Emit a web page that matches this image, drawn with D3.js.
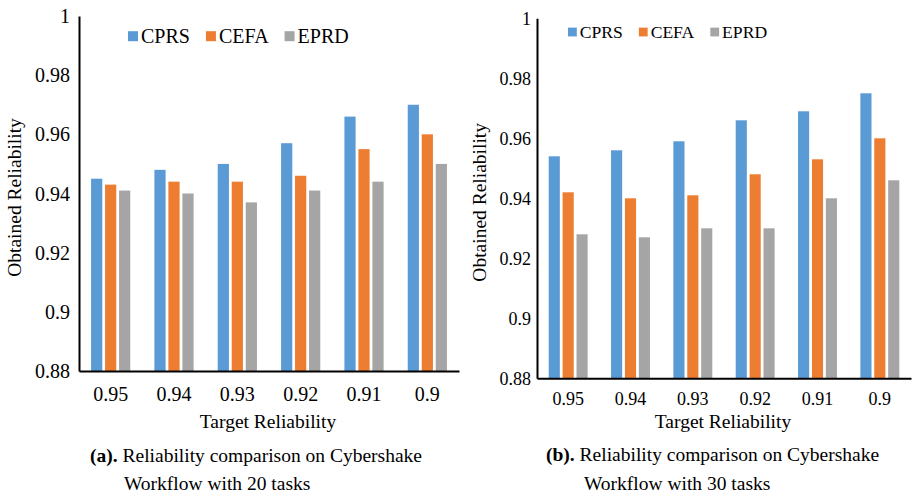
<!DOCTYPE html>
<html>
<head>
<meta charset="utf-8">
<script src="https://cdn.jsdelivr.net/npm/d3@7"></script>
<style>
  body { margin: 0; background: #fff; }
  svg { display: block; }
</style>
</head>
<body>
<svg id="chart" width="913" height="496" font-family="Liberation Serif"></svg>
<script>
// data
const categories = ["0.95", "0.94", "0.93", "0.92", "0.91", "0.9"]
const seriesNames = ["CPRS", "CEFA", "EPRD"]
const yTicks = [0.88, 0.9, 0.92, 0.94, 0.96, 0.98, 1]

// (a) 20 tasks
const cprs20 = [0.945, 0.948, 0.950, 0.957, 0.966, 0.970]
const cefa20 = [0.943, 0.944, 0.944, 0.946, 0.955, 0.960]
const eprd20 = [0.941, 0.940, 0.937, 0.941, 0.944, 0.950]

// (b) 30 tasks
const cprs30 = [0.954, 0.956, 0.959, 0.966, 0.969, 0.975]
const cefa30 = [0.942, 0.940, 0.941, 0.948, 0.953, 0.960]
const eprd30 = [0.928, 0.927, 0.930, 0.930, 0.940, 0.946]

const colors = ["#5B9BD5", "#ED7D31", "#A5A5A5"]
const FONT = "Liberation Serif"

const panels = [
  {
    tag: "(a).", caption1: " Reliability comparison on Cybershake", caption2: "Workflow with 20 tasks",
    values: [cprs20, cefa20, eprd20],
    left: 79, right: 459, top: 16, bottom: 371, cluster: 42,
    yPad: 9, xPad: 16, tickFont: 20, legendFont: 20, legendX: 128, legendY: 43,
    titleFont: 19.5, yTitleX: 21, xTitleY: 428,
    capX1: 90, capX2: 124, capY1: 462, capY2: 490
  },
  {
    tag: "(b).", caption1: " Reliability comparison on Cybershake", caption2: "Workflow with 30 tasks",
    values: [cprs30, cefa30, eprd30],
    left: 537, right: 911, top: 18.3, bottom: 378.3, cluster: 41.7,
    yPad: 6, xPad: 14, tickFont: 18, legendFont: 17.6, legendX: 568, legendY: 38,
    titleFont: 19.5, yTitleX: 486, xTitleY: 428,
    capX1: 546, capX2: 584, capY1: 461, capY2: 490
  }
]

const svg = d3.select("#chart")

const drawPanel = (p) => {
  const g = svg.append("g").attr("font-family", FONT)

  const x0 = d3.scaleBand()
      .domain(categories)
      .range([p.left, p.right])
      .padding(0)
  const x1 = d3.scaleBand()
      .domain(seriesNames)
      .range([0, p.cluster])
      .paddingInner(0.2)
      .paddingOuter(0.1)
  const y = d3.scaleLinear()
      .domain([0.88, 1])
      .range([p.bottom, p.top])

  const rows = categories.map((c, i) => ({
    cat: c,
    vals: seriesNames.map((s, k) => ({ s: s, k: k, v: p.values[k][i] }))
  }))

  // bars
  const groups = g.selectAll("g.cat")
      .data(rows)
    .enter().append("g")
      .attr("class", "cat")
      .attr("transform", d => `translate(${x0(d.cat) + x0.bandwidth() / 2 - p.cluster / 2},0)`)
  groups.selectAll("rect")
      .data(d => d.vals)
    .enter().append("rect")
      .attr("x", d => x1(d.s))
      .attr("y", d => y(d.v))
      .attr("width", x1.bandwidth())
      .attr("height", d => y(0.88) - y(d.v))
      .attr("fill", d => colors[d.k])

  // y axis
  const yAxis = g.append("g")
      .attr("transform", `translate(${p.left},0)`)
      .call(d3.axisLeft(y)
        .tickValues(yTicks)
        .tickSize(0)
        .tickPadding(p.yPad)
        .tickFormat(d => String(+d.toFixed(2))))
      .attr("font-family", FONT)
      .attr("font-size", p.tickFont)
  yAxis.select(".domain").attr("stroke", "#000").attr("stroke-width", 2)
  yAxis.selectAll("text").attr("fill", "#000").attr("dy", "0.33em")

  // x axis
  const xAxis = g.append("g")
      .attr("transform", `translate(0,${p.bottom})`)
      .call(d3.axisBottom(x0).tickSize(0).tickPadding(p.xPad))
      .attr("font-family", FONT)
      .attr("font-size", p.tickFont)
  xAxis.select(".domain").attr("stroke", "#000").attr("stroke-width", 2)
  xAxis.selectAll("text").attr("fill", "#000")

  // legend
  let lx = p.legendX
  seriesNames.forEach((s, k) => {
    const sw = p.legendFont * 0.5
    g.append("rect")
        .attr("x", lx)
        .attr("y", p.legendY - p.legendFont * 0.34 - sw / 2)
        .attr("width", sw)
        .attr("height", sw)
        .attr("fill", colors[k])
    const t = g.append("text")
        .attr("x", lx + sw + 3)
        .attr("y", p.legendY)
        .attr("font-size", p.legendFont)
        .text(s)
    lx += sw + 3 + t.node().getComputedTextLength() + 16
  })

  // axis titles
  g.append("text")
      .attr("transform", `translate(${p.yTitleX},${(p.top + p.bottom) / 2 + 4}) rotate(-90)`)
      .attr("text-anchor", "middle")
      .attr("font-size", p.titleFont)
      .text("Obtained Reliability")
  g.append("text")
      .attr("x", (p.left + p.right) / 2 - 1)
      .attr("y", p.xTitleY)
      .attr("text-anchor", "middle")
      .attr("font-size", p.titleFont)
      .text("Target Reliability")

  // caption
  const cap = g.append("text")
      .attr("x", p.capX1)
      .attr("y", p.capY1)
      .attr("font-size", 19.5)
  cap.append("tspan").attr("font-weight", "bold").text(p.tag)
  cap.append("tspan").text(p.caption1)
  g.append("text")
      .attr("x", p.capX2)
      .attr("y", p.capY2)
      .attr("font-size", 19.5)
      .text(p.caption2)
}

panels.forEach(drawPanel)
</script>
</body>
</html>
